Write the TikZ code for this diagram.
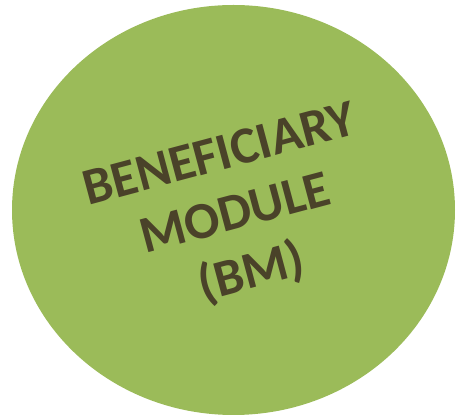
\documentclass[tikz,border=0pt]{standalone}
\usepackage{fontspec}
\setmainfont{Carlito}
\definecolor{bmgreen}{HTML}{9BBB59}
\definecolor{bmtext}{HTML}{4A4229}
\tikzset{
  module/.style={fill=bmgreen, draw=none},
  modlabel/.style={text=bmtext, font=\bfseries\fontsize{52}{61}\selectfont, align=center, rotate=15}
}
\begin{document}
\begin{tikzpicture}[x=1pt, y=1pt]
  \useasboundingbox (0,0) rectangle (456,417);
  % the module itself
  \fill[module] (233.5,207) ellipse [x radius=221.5, y radius=205];
  % its name
  \node[modlabel] (bm) at (236,201) {BENEFICIARY\\MODULE\\(BM)};
\end{tikzpicture}
\end{document}
